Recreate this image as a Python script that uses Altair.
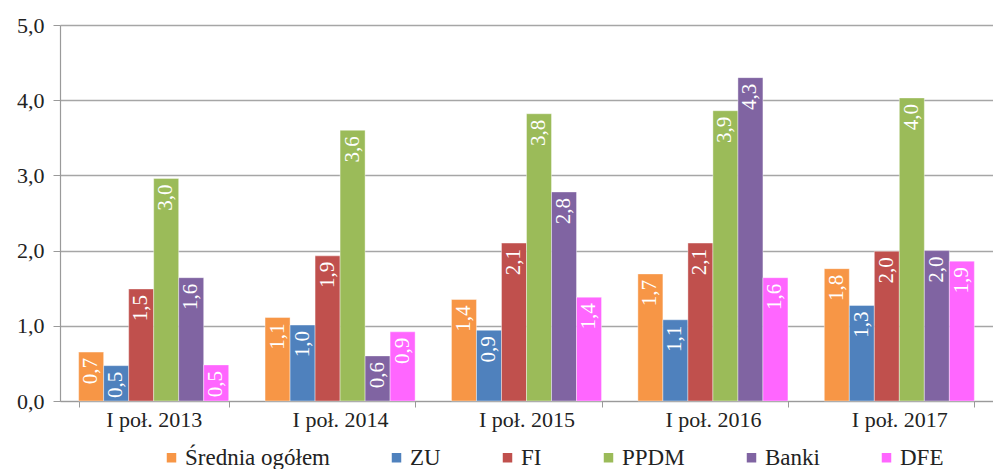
import altair as alt
import pandas as pd

years = ["I poł. 2013", "I poł. 2014", "I poł. 2015", "I poł. 2016", "I poł. 2017"]
series = ["Średnia ogółem", "ZU", "FI", "PPDM", "Banki", "DFE"]
colors = ["#F79646", "#4F81BD", "#C0504D", "#9BBB59", "#8064A2", "#FF66FF"]

srednia = [0.65, 1.11, 1.35, 1.69, 1.76]
zu = [0.47, 1.01, 0.94, 1.08, 1.27]
fi = [1.49, 1.93, 2.10, 2.10, 1.99]
ppdm = [2.96, 3.60, 3.82, 3.86, 4.03]
banki = [1.64, 0.60, 2.78, 4.30, 2.00]
dfe = [0.48, 0.92, 1.38, 1.64, 1.86]

labels_srednia = ["0,7", "1,1", "1,4", "1,7", "1,8"]
labels_zu = ["0,5", "1,0", "0,9", "1,1", "1,3"]
labels_fi = ["1,5", "1,9", "2,1", "2,1", "2,0"]
labels_ppdm = ["3,0", "3,6", "3,8", "3,9", "4,0"]
labels_banki = ["1,6", "0,6", "2,8", "4,3", "2,0"]
labels_dfe = ["0,5", "0,9", "1,4", "1,6", "1,9"]

vals = [srednia, zu, fi, ppdm, banki, dfe]
labs = [labels_srednia, labels_zu, labels_fi, labels_ppdm, labels_banki, labels_dfe]

rows = []
for s, v, l in zip(series, vals, labs):
    for y, vv, ll in zip(years, v, l):
        rows.append({"year": y, "series": s, "value": vv, "label": ll})
df = pd.DataFrame(rows)

FONT = "Liberation Serif"

x = alt.X("year:N", sort=years, title=None,
          scale=alt.Scale(paddingInner=0.195, paddingOuter=0.1),
          axis=alt.Axis(labelAngle=0, tickBand="extent", tickSize=6, labelPadding=2,
                        labelFont=FONT, labelFontSize=22, labelColor="#222222",
                        domainColor="#9a9a9a", tickColor="#9a9a9a", domainWidth=1.2, grid=False))
xo = alt.XOffset("series:N", sort=series)
y = alt.Y("value:Q", title=None,
          scale=alt.Scale(domain=[0, 5]),
          axis=alt.Axis(values=[0, 1, 2, 3, 4, 5], labelExpr="replace(format(datum.value, '.1f'), '.', ',')",
                        tickSize=7, labelPadding=9, minExtent=47, maxExtent=47,
                        labelFont=FONT, labelFontSize=22, labelColor="#222222",
                        domainColor="#9a9a9a", tickColor="#9a9a9a", gridColor="#a6a6a6",
                        gridWidth=1.3, domainWidth=1.2))

bars = alt.Chart(df).mark_bar(stroke="white", strokeWidth=0.4).encode(
    x=x, xOffset=xo, y=y,
    color=alt.Color("series:N", sort=series,
                    scale=alt.Scale(domain=series, range=colors),
                    legend=alt.Legend(title=None, orient="none", direction="horizontal",
                                      legendX=100, legendY=421, columnPadding=55,
                                      symbolType="square", symbolSize=90, symbolStrokeWidth=0,
                                      symbolOffset=0, labelOffset=2, labelLimit=300,
                                      labelFont=FONT, labelFontSize=23, labelColor="#222222")),
)

text = alt.Chart(df).mark_text(angle=270, align="right", baseline="middle", dx=-6,
                               color="white", font=FONT, fontSize=21).encode(
    x=x, xOffset=xo, y=y, text="label:N"
)

chart = alt.layer(bars, text).properties(
    width=933, height=376,
    padding={"left": 5, "top": 6, "right": 0, "bottom": 0},
).configure_view(stroke=None)

chart.save("out.html", embed_options={"renderer": "svg", "actions": False})
